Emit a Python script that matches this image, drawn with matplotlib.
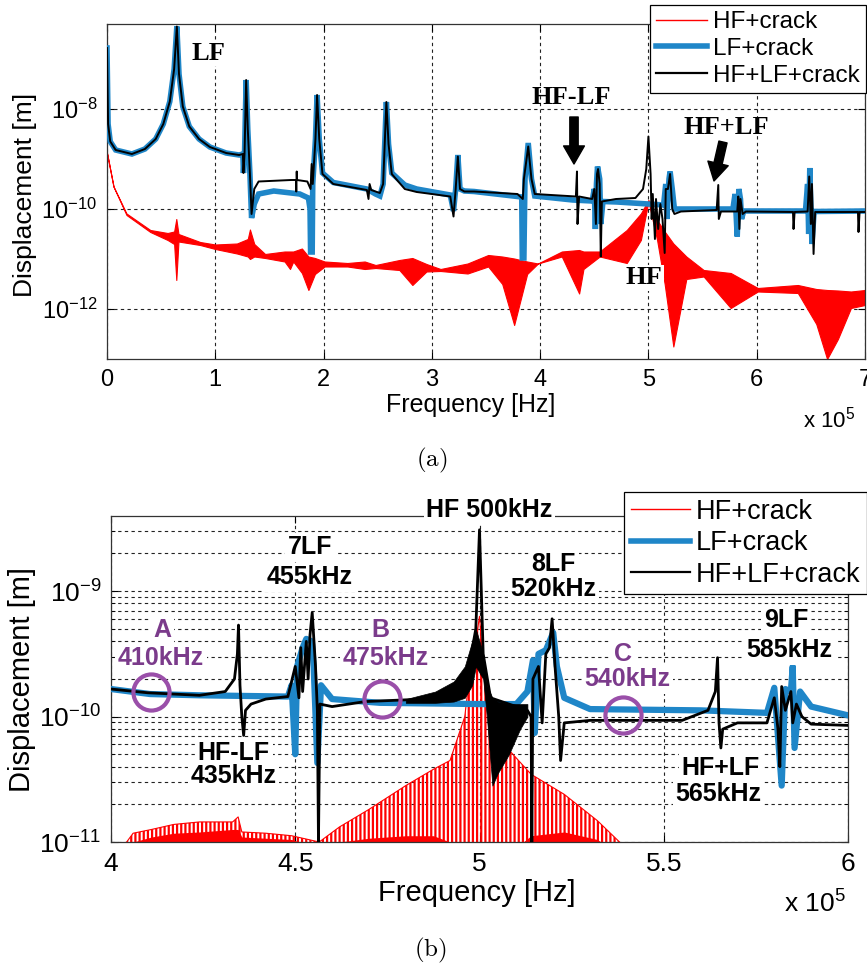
import numpy as np
import matplotlib
matplotlib.use('Agg')
import matplotlib.pyplot as plt
from matplotlib.lines import Line2D
from matplotlib.ticker import FixedLocator, FuncFormatter, LogLocator, NullFormatter

plt.rcParams['font.family'] = ['Liberation Sans', 'DejaVu Sans']
plt.rcParams['mathtext.fontset'] = 'custom'
plt.rcParams['mathtext.rm'] = 'Liberation Sans'
plt.rcParams['mathtext.bf'] = 'Liberation Sans:bold'
plt.rcParams['hatch.linewidth'] = 1.6

W, H = 867, 966
RED = '#ff0000'
BLUE = '#1f86c8'
PURPLE_TXT = '#7b3b8b'
PURPLE_RING = '#9a4fa9'

# --- (a) 0-700 kHz; frequency in units of 1e5 Hz, displacement as log10 [m] ---
lf_a = [(0.0, -6.78), (0.01, -8.3), (0.03, -8.65), (0.08, -8.82), (0.23, -8.9), (0.35, -8.8),
        (0.45, -8.6), (0.52, -8.3), (0.58, -7.85), (0.62, -7.2), (0.645, -6.35), (0.665, -7.3),
        (0.70, -7.95), (0.76, -8.35), (0.85, -8.6), (0.95, -8.76), (1.1, -8.88), (1.22, -8.92),
        (1.255, -8.9), (1.26, -9.28), (1.27, -8.9), (1.285, -7.42), (1.30, -8.4), (1.32, -9.3),
        (1.335, -10.18), (1.36, -9.9), (1.40, -9.7), (1.54, -9.64), (1.78, -9.7), (1.86, -9.78),
        (1.875, -10.0), (1.88, -10.86), (1.895, -10.86), (1.90, -9.5), (1.925, -8.6), (1.94, -7.72),
        (1.96, -8.6), (1.99, -9.28), (2.09, -9.47), (2.4, -9.6), (2.48, -9.7), (2.52, -9.74),
        (2.55, -9.5), (2.58, -7.86), (2.60, -8.7), (2.63, -9.28), (2.75, -9.52), (2.86, -9.6),
        (3.17, -9.72), (3.20, -10.04), (3.22, -9.6), (3.24, -8.92), (3.26, -9.6), (3.30, -9.64),
        (3.39, -9.65), (3.79, -9.75), (3.83, -9.76), (3.835, -10.98), (3.85, -10.98), (3.86, -9.4),
        (3.89, -8.68), (3.92, -9.4), (3.95, -9.74), (4.3, -9.82), (4.48, -9.84), (4.50, -9.6),
        (4.51, -10.4), (4.52, -9.5), (4.53, -9.15), (4.55, -9.4), (4.56, -10.3), (4.58, -9.85),
        (4.71, -9.86), (5.0, -9.9), (5.14, -9.92), (5.16, -9.5), (5.17, -10.2), (5.19, -9.4),
        (5.2, -9.25), (5.22, -9.6), (5.24, -10.0), (5.56, -10.0), (5.78, -10.0), (5.80, -9.7),
        (5.82, -10.55), (5.835, -9.6), (5.85, -9.8), (5.86, -10.2), (5.88, -10.04), (6.19, -10.04),
        (6.45, -10.04), (6.47, -9.5), (6.48, -10.5), (6.49, -9.18), (6.51, -10.7), (6.53, -10.05),
        (7.0, -10.04)]

hflf_a = [(0.0, -6.78), (0.01, -8.3), (0.03, -8.65), (0.08, -8.82), (0.23, -8.9), (0.35, -8.8),
          (0.45, -8.6), (0.52, -8.3), (0.58, -7.85), (0.62, -7.2), (0.645, -6.35), (0.665, -7.3),
          (0.70, -7.95), (0.76, -8.35), (0.85, -8.6), (0.95, -8.76), (1.1, -8.88), (1.22, -8.92),
          (1.255, -8.9), (1.26, -9.28), (1.27, -8.9), (1.285, -7.42), (1.30, -8.4), (1.32, -9.3),
          (1.335, -10.1), (1.36, -9.6), (1.40, -9.45), (1.70, -9.42), (1.745, -9.42), (1.748, -9.65),
          (1.752, -9.25), (1.755, -9.42), (1.85, -9.45), (1.88, -9.6), (1.89, -9.1), (1.90, -9.5),
          (1.925, -8.6), (1.94, -7.72), (1.96, -8.6), (1.99, -9.3), (2.09, -9.5), (2.40, -9.62),
          (2.415, -9.8), (2.425, -9.5), (2.44, -9.62), (2.52, -9.68), (2.55, -9.5), (2.58, -7.86),
          (2.60, -8.7), (2.63, -9.3), (2.75, -9.6), (2.86, -9.66), (3.0, -9.7), (3.17, -9.75),
          (3.20, -10.15), (3.22, -9.6), (3.24, -8.95), (3.26, -9.6), (3.30, -9.65), (3.39, -9.65),
          (3.79, -9.7), (3.84, -9.8), (3.85, -9.4), (3.89, -8.75), (3.92, -9.4), (3.95, -9.7),
          (4.33, -9.75), (4.34, -9.25), (4.345, -10.3), (4.36, -9.75), (4.48, -9.8), (4.50, -9.6),
          (4.515, -10.3), (4.525, -9.3), (4.535, -9.2), (4.55, -9.5), (4.56, -10.95), (4.57, -9.85),
          (4.7, -9.8), (4.88, -9.78), (4.95, -9.6), (4.98, -9.2), (5.0, -8.55), (5.02, -9.3),
          (5.03, -10.2), (5.04, -9.7), (5.06, -10.6), (5.07, -9.8), (5.09, -10.4), (5.11, -9.9),
          (5.13, -10.2), (5.15, -10.88), (5.16, -9.6), (5.18, -9.6), (5.2, -9.3), (5.22, -10.0),
          (5.24, -10.1), (5.3, -10.05), (5.63, -10.02), (5.645, -9.52), (5.65, -10.2), (5.67, -10.05),
          (5.82, -10.05), (5.83, -9.75), (5.84, -10.4), (5.85, -9.8), (5.87, -10.1), (5.9, -10.05),
          (6.335, -10.06), (6.34, -10.4), (6.35, -10.06), (6.47, -10.05), (6.485, -9.35), (6.50, -10.3),
          (6.51, -9.5), (6.525, -10.9), (6.54, -10.06), (6.935, -10.06), (6.94, -10.46), (6.95, -10.06),
          (7.0, -10.06)]

# HF+crack: dense oscillation, kept as (freq, upper, lower) envelope
hf_a = [(0.0, -8.88, -8.88), (0.06, -9.55, -9.55), (0.18, -10.09, -10.12), (0.40, -10.42, -10.46),
        (0.56, -10.48, -10.62), (0.62, -10.45, -10.7), (0.64, -10.2, -11.42), (0.66, -10.5, -10.65),
        (0.86, -10.66, -10.72), (1.0, -10.71, -10.8), (1.2, -10.69, -10.89), (1.3, -10.6, -10.95),
        (1.32, -10.41, -11.0), (1.36, -10.7, -10.95), (1.46, -10.9, -10.98), (1.64, -10.85, -11.05),
        (1.69, -10.85, -11.2), (1.72, -10.85, -11.05), (1.80, -10.79, -11.28), (1.86, -10.95, -11.62),
        (1.92, -10.98, -11.3), (2.01, -11.05, -11.15), (2.22, -11.08, -11.15), (2.38, -11.05, -11.2),
        (2.48, -11.12, -11.18), (2.70, -11.02, -11.22), (2.82, -10.98, -11.52), (2.95, -11.1, -11.25),
        (3.08, -11.2, -11.24), (3.33, -11.09, -11.29), (3.52, -10.92, -11.15), (3.65, -10.95, -11.5),
        (3.76, -10.99, -12.32), (3.88, -11.05, -11.3), (3.98, -11.09, -11.09), (4.2, -10.85, -10.95),
        (4.36, -10.82, -11.69), (4.4, -10.85, -11.2), (4.55, -10.85, -10.95), (4.8, -10.42, -11.08),
        (4.93, -10.09, -10.62), (5.0, -9.82, -9.85), (5.08, -10.22, -10.62), (5.15, -10.45, -11.5),
        (5.23, -10.69, -12.75), (5.35, -10.95, -11.4), (5.51, -11.22, -11.35), (5.76, -11.28, -11.98),
        (6.01, -11.58, -11.65), (6.38, -11.52, -11.68), (6.55, -11.6, -12.3), (6.65, -11.62, -13.0),
        (6.75, -11.63, -12.6), (6.87, -11.65, -11.98), (7.0, -11.62, -11.92)]

# --- (b) zoom 400-600 kHz ---
lf_b = [(4.0, -9.78), (4.106, -9.82), (4.24, -9.83), (4.48, -9.84), (4.49, -9.75), (4.50, -10.3),
        (4.505, -9.6), (4.52, -9.45), (4.53, -9.38), (4.545, -9.4), (4.55, -9.6), (4.56, -10.37),
        (4.57, -9.75), (4.6, -9.86), (4.73, -9.89), (5.0, -9.9), (5.1, -9.9), (5.13, -9.8),
        (5.145, -9.55), (5.15, -10.13), (5.16, -9.5), (5.18, -9.47), (5.20, -9.33), (5.21, -9.6),
        (5.23, -9.85), (5.3, -9.94), (5.6, -9.95), (5.78, -9.97), (5.80, -9.77), (5.82, -10.55),
        (5.83, -9.78), (5.845, -9.8), (5.85, -9.6), (5.855, -10.25), (5.87, -9.8), (5.9, -9.92),
        (6.0, -9.99)]

hflf_b = [(4.0, -9.78), (4.1, -9.81), (4.24, -9.83), (4.31, -9.8), (4.335, -9.7), (4.343, -9.5),
          (4.346, -9.27), (4.35, -9.75), (4.355, -10.0), (4.36, -10.15), (4.365, -9.95), (4.38, -9.9),
          (4.42, -9.86), (4.48, -9.84), (4.50, -9.6), (4.51, -9.85), (4.515, -9.45), (4.52, -9.8),
          (4.53, -9.4), (4.535, -9.7), (4.54, -9.35), (4.546, -9.17), (4.555, -9.6), (4.56, -9.95),
          (4.563, -11.0), (4.567, -9.9), (4.6, -9.92), (4.69, -9.88), (4.85, -9.86), (4.92, -9.8),
          (4.97, -9.63), (4.99, -9.3), (5.0, -8.51), (5.01, -9.5), (5.03, -9.85), (5.13, -9.95),
          (5.14, -10.0), (5.142, -11.0), (5.145, -9.7), (5.16, -9.6), (5.17, -10.05), (5.18, -9.5),
          (5.19, -9.45), (5.197, -9.22), (5.205, -9.6), (5.215, -10.0), (5.22, -10.35), (5.23, -10.05),
          (5.3, -10.03), (5.55, -10.03), (5.62, -9.95), (5.64, -9.8), (5.646, -9.53), (5.65, -10.05),
          (5.655, -10.25), (5.66, -10.1), (5.7, -10.05), (5.78, -10.05), (5.80, -9.85), (5.81, -10.1),
          (5.815, -10.4), (5.82, -9.76), (5.83, -9.95), (5.845, -9.8), (5.85, -10.05), (5.86, -9.9),
          (5.875, -10.0), (5.9, -10.06), (6.0, -10.07)]

# black band around the HF resonance (freq, lower, upper)
hflf_band_b = [(4.80, -9.89, -9.86), (4.88, -9.89, -9.80), (4.93, -9.88, -9.72), (4.96, -9.85, -9.60),
               (4.98, -9.75, -9.40), (4.99, -9.6, -9.3), (5.01, -9.7, -9.5), (5.02, -10.0, -9.75),
               (5.035, -10.55, -9.85), (5.05, -10.45, -9.88), (5.08, -10.3, -9.9), (5.11, -10.1, -9.9),
               (5.13, -10.0, -9.9)]

# HF+crack (freq, top of oscillation, dense part)
hf_b = [(4.03, -11.05, -11.1), (4.06, -10.93, -11.0), (4.11, -10.9, -10.96), (4.17, -10.86, -10.93),
        (4.24, -10.84, -10.92), (4.33, -10.84, -10.9), (4.345, -10.8, -10.9), (4.355, -10.92, -10.96),
        (4.42, -10.93, -10.97), (4.49, -10.95, -10.98), (4.565, -11.0, -11.05), (4.62, -10.88, -11.0),
        (4.70, -10.74, -10.97), (4.80, -10.55, -10.95), (4.875, -10.42, -10.95), (4.92, -10.35, -11.0),
        (4.96, -10.0, -11.05), (4.98, -9.5, -11.1), (4.995, -9.3, -11.1), (5.0, -9.2, -11.1),
        (5.01, -9.6, -11.1), (5.03, -10.0, -11.1), (5.05, -10.2, -11.1), (5.075, -10.25, -11.1),
        (5.14, -10.46, -10.95), (5.23, -10.62, -10.92), (5.32, -10.83, -10.98), (5.38, -11.0, -11.1)]

ring_f = [4.108, 4.736, 5.39]
ring_logd = [-9.806, -9.856, -9.99]


def cols(pts):
    a = np.array(pts, dtype=float).T
    return [a[0]] + [10.0 ** r for r in a[1:]]


def decade_fmt(v, pos):
    return r'$\mathregular{10^{%d}}$' % int(round(np.log10(v)))


def style_axes(ax, fs):
    for s in ax.spines.values():
        s.set_linewidth(0.9)
        s.set_color('#333333')
    ax.tick_params(which='major', direction='in', top=True, right=True, length=5, width=0.8,
                   labelsize=fs, pad=7)
    ax.tick_params(which='minor', direction='in', left=True, right=True, length=3, width=0.6)
    ax.yaxis.set_major_formatter(FuncFormatter(decade_fmt))
    ax.set_axisbelow(True)


fig = plt.figure(figsize=(W / 100, H / 100), dpi=100)
grid_kw = dict(color='#222222', linestyle=(0, (3, 3)), linewidth=0.8)

# ---------------- panel (a) ----------------
ax1 = fig.add_axes([107 / W, 1 - 359 / H, 758 / W, 335 / H])
ax1.set_yscale('log')
f, up, lo = cols(hf_a)
ax1.fill_between(f, lo, up, color=RED, lw=0.8, zorder=2)
f, d = cols(lf_a)
ax1.plot(f, d, color=BLUE, lw=4, solid_joinstyle='miter', zorder=3)
f, d = cols(hflf_a)
ax1.plot(f, d, color='black', lw=1.4, zorder=4)
ax1.set_xlim(0, 7)
ax1.set_ylim(1e-13, 10 ** -6.3)
ax1.xaxis.set_major_locator(FixedLocator(range(8)))
ax1.xaxis.set_major_formatter(FuncFormatter(lambda v, p: '%d' % v))
ax1.yaxis.set_major_locator(FixedLocator([1e-12, 1e-10, 1e-8]))
ax1.yaxis.set_minor_locator(FixedLocator([]))
style_axes(ax1, 17)
ax1.grid(True, which='major', **grid_kw)

serif_bold = dict(family='Liberation Serif', weight='bold', fontsize=19, ha='center', va='center')
ax1.text(0.94, 10 ** -6.88, 'LF', bbox=dict(fc='white', ec='none', pad=1), zorder=5, **serif_bold)
ax1.text(4.29, 10 ** -7.78, 'HF-LF', zorder=5, **serif_bold)
ax1.text(5.72, 10 ** -8.38, 'HF+LF', zorder=5, **serif_bold)
ax1.text(4.96, 10 ** -11.38, 'HF', bbox=dict(fc='white', ec='none', pad=1), zorder=5, **serif_bold)

arrow_kw = dict(facecolor='black', edgecolor='black', width=6, headwidth=15, headlength=13, shrink=0)
fig.add_artist(plt.Annotation('', xy=(574 / W, 1 - 164 / H), xytext=(574 / W, 1 - 117 / H),
                              xycoords='figure fraction', arrowprops=arrow_kw))
fig.add_artist(plt.Annotation('', xy=(714 / W, 1 - 181 / H), xytext=(723 / W, 1 - 142 / H),
                              xycoords='figure fraction', arrowprops=arrow_kw))

handles = [Line2D([], [], color=RED, lw=1), Line2D([], [], color=BLUE, lw=4),
           Line2D([], [], color='black', lw=1.6)]
names = ['HF+crack', 'LF+crack', 'HF+LF+crack']
leg = ax1.legend(handles, names, loc='upper right', bbox_to_anchor=(866 / W, 1 - 5 / H),
                 bbox_transform=fig.transFigure, fontsize=17.5, frameon=True, fancybox=False,
                 framealpha=1, edgecolor='black', borderaxespad=0, borderpad=0.25,
                 labelspacing=0.2, handlelength=2.1, handletextpad=0.25)
leg.get_frame().set_linewidth(0.9)
leg.set_zorder(10)

fig.text(25 / W, 1 - 195 / H, 'Displacement [m]', rotation=90, ha='center', va='center', fontsize=19)
fig.text(471 / W, 1 - 405 / H, 'Frequency [Hz]', ha='center', va='center', fontsize=18)
fig.text(829 / W, 1 - 420 / H, r'x 10$^{5}$', ha='center', va='center', fontsize=16)
fig.text(432 / W, 1 - 460 / H, r'$\mathrm{(a)}$', ha='center', va='center', fontsize=18,
         math_fontfamily='cm')

# ---------------- panel (b) ----------------
ax2 = fig.add_axes([111 / W, 1 - 842 / H, 737 / W, 326 / H])
ax2.set_yscale('log')
f, top, dense = cols(hf_b)
ax2.fill_between(f, 1e-12, top, facecolor='none', edgecolor=RED, hatch='||||', lw=0, zorder=2)
ax2.fill_between(f, 1e-12, dense, color=RED, lw=0, zorder=2)
ax2.plot(f, top, color=RED, lw=0.8, zorder=2)
f, d = cols(lf_b)
ax2.plot(f, d, color=BLUE, lw=4.5, zorder=3)
f, lo, up = cols(hflf_band_b)
ax2.fill_between(f, lo, up, color='black', lw=0.5, zorder=4)
f, d = cols(hflf_b)
ax2.plot(f, d, color='black', lw=2, zorder=4)
ax2.set_xlim(4, 6)
ax2.set_ylim(1e-11, 10 ** -8.4)
ax2.xaxis.set_major_locator(FixedLocator([4, 4.5, 5, 5.5, 6]))
ax2.xaxis.set_major_formatter(FuncFormatter(lambda v, p: '%g' % v))
ax2.yaxis.set_major_locator(FixedLocator([1e-11, 1e-10, 1e-9]))
ax2.yaxis.set_minor_locator(LogLocator(base=10, subs=range(2, 10)))
ax2.yaxis.set_minor_formatter(NullFormatter())
style_axes(ax2, 19)
ax2.grid(True, which='both', axis='y', **grid_kw)
ax2.grid(True, which='major', axis='x', **grid_kw)

box = dict(fc='white', ec='none', pad=2)
lab = dict(fontsize=18, weight='bold', ha='center', va='center', bbox=box, zorder=5)
for x, y, s in [(4.54, -8.65, '7LF'), (4.54, -8.89, '455kHz'),
                (4.333, -10.29, 'HF-LF'), (4.333, -10.475, '435kHz'),
                (5.201, -8.78, '8LF'), (5.201, -8.98, '520kHz'),
                (5.832, -9.23, '9LF'), (5.84, -9.47, '585kHz'),
                (5.655, -10.41, 'HF+LF'), (5.649, -10.62, '565kHz')]:
    ax2.text(x, 10 ** y, s, **lab)
ax2.text(5.027, 10 ** -8.35, 'HF 500kHz', clip_on=False, **lab)
for x, y, s in [(4.139, -9.31, 'A'), (4.136, -9.53, '410kHz'),
                (4.731, -9.31, 'B'), (4.745, -9.53, '475kHz'),
                (5.389, -9.50, 'C'), (5.402, -9.70, '540kHz')]:
    ax2.text(x, 10 ** y, s, color=PURPLE_TXT, **lab)
ax2.plot(ring_f, 10.0 ** np.array(ring_logd), 'o', ms=26, mfc='none', mec=PURPLE_RING,
         mew=3, zorder=6)

leg2 = ax2.legend(handles, names, loc='upper right', bbox_to_anchor=(867 / W, 1 - 492 / H),
                  bbox_transform=fig.transFigure, fontsize=19.5, frameon=True, fancybox=False,
                  framealpha=1, edgecolor='black', borderaxespad=0, borderpad=0.25,
                  labelspacing=0.2, handlelength=2.2, handletextpad=0.2)
leg2.get_frame().set_linewidth(0.9)
leg2.set_zorder(10)

fig.text(22 / W, 1 - 680 / H, 'Displacement [m]', rotation=90, ha='center', va='center', fontsize=21)
fig.text(477 / W, 1 - 893 / H, 'Frequency [Hz]', ha='center', va='center', fontsize=21)
fig.text(815 / W, 1 - 903 / H, r'x 10$^{5}$', ha='center', va='center', fontsize=19)
fig.text(430 / W, 1 - 950 / H, r'$\mathrm{(b)}$', ha='center', va='center', fontsize=18,
         math_fontfamily='cm')

fig.savefig('out.png', dpi=100)
